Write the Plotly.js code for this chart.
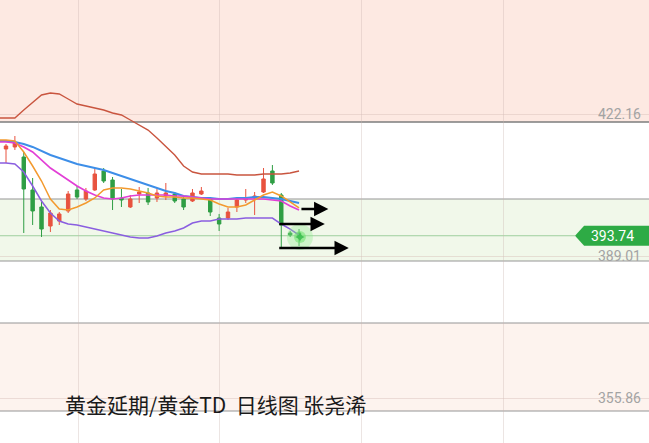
<!DOCTYPE html>
<html><head><meta charset="utf-8">
<script src="https://cdn.plot.ly/plotly-3.0.1.min.js"></script>
<style>html,body{margin:0;padding:0;background:#fff;}#chart{width:649px;height:443px;}</style>
</head><body><div id="chart"></div>
<script>
// candle index positions
const idx = [0,1,2,3,4,5,6,7,8,9,10,11,12,13,14,15,16,17,18,19,20,21,22,23,24,25,26,27,28,29,30,31,32,33];
const openV  = [413.99,414.46,412.12,404.42,400.45,396.01,397.18,399.52,404.42,402.32,404.42,408.85,406.75,402.55,400.45,403.48,403.72,402.55,403.02,403.48,402.32,401.85,403.48,402.32,397.88,397.88,400.45,402.08,402.55,403.95,408.85,403.25,394.38,394.38];
const highV  = [415.16,417.02,413.29,407.22,401.62,399.75,399.28,404.18,405.35,404.89,409.55,409.55,407.45,404.65,403.25,405.12,404.89,404.65,406.05,403.95,402.78,404.65,405.12,402.78,398.82,400.22,402.55,404.65,403.95,409.55,410.25,403.72,394.85,395.31];
const lowV   = [410.72,413.76,394.38,396.25,393.45,394.61,396.25,399.05,402.32,401.85,404.18,406.05,399.75,400.45,400.22,401.38,400.92,401.62,402.08,401.38,399.75,401.62,403.25,398.35,394.85,397.41,399.28,401.38,398.58,403.72,405.59,391.11,393.45,391.34];
const closeV = [414.69,415.39,404.65,399.52,395.31,399.05,398.82,403.48,402.78,404.18,408.15,406.52,402.32,402.08,402.32,403.95,401.62,403.72,403.72,401.85,400.45,403.72,404.18,399.28,396.48,399.28,402.08,402.55,403.02,406.99,406.05,396.25,393.91,393.74];

// indicator lines (index -1 .. 33)
const lineIdx = [-1,0,1,2,3,4,5,6,7,8,9,10,11,12,13,14,15,16,17,18,19,20,21,22,23,24,25,26,27,28,29,30,31,32,33];
const upperBand = [421.23,421.23,421.23,423.09,424.96,426.60,427.06,426.83,425.66,424.49,424.03,423.56,423.09,422.39,421.93,420.76,419.59,418.42,416.56,414.69,412.59,410.02,408.62,408.15,408.15,408.15,408.15,407.92,407.92,407.92,408.15,408.15,408.15,408.39,408.85];
const maBlue  = [415.86,415.86,415.62,415.16,414.46,413.52,412.59,411.89,411.19,410.49,410.02,409.55,409.09,408.39,407.69,406.99,406.29,405.59,404.88,404.18,403.72,403.02,402.78,402.55,402.55,402.32,402.32,402.55,402.55,402.78,402.78,402.55,402.32,401.85,401.38];
const maPink  = [415.62,415.62,415.39,414.46,413.29,411.42,409.55,408.15,406.75,405.35,404.18,403.25,402.55,402.32,402.55,403.02,403.25,403.25,403.25,403.25,403.02,403.02,402.78,402.55,402.32,402.32,402.32,402.32,402.32,402.32,402.32,402.08,401.85,400.68,399.75];
const maOrange= [416.09,416.09,415.86,413.29,410.02,406.52,402.32,399.98,399.75,400.45,401.38,402.55,404.42,404.88,404.88,404.65,404.18,403.72,403.02,402.78,402.78,402.55,402.55,402.32,402.08,401.15,400.45,400.45,400.92,402.08,403.25,403.95,403.02,401.62,400.22];
const lowerBand = [410.72,410.72,410.49,408.62,405.35,401.85,399.05,397.18,396.48,396.25,395.78,395.31,394.85,394.38,393.91,393.45,393.21,393.21,393.68,394.38,394.85,395.55,396.71,397.18,397.18,397.65,397.65,397.65,397.88,397.88,397.88,397.88,396.48,395.31,393.91];

// drawn levels and axis labels
const levels = [420.29, 402.32, 387.84, 373.37, 352.83];
const yTicks = [355.86, 389.01, 422.16];
const lastPrice = 393.74;
const arrowsX0 = [33.1, 30.6, 30.6];
const arrowsX1 = [36.3, 35.9, 38.6];
const arrowsY  = [399.98, 396.48, 390.88];
const glowPt = {x: 33.1, y: 393.45};
const caption = '黄金延期/黄金TD  日线图 张尧浠';

const RED = '#e8533f', GREEN = '#2f9e44';
const traces = [
  {type:'candlestick', x: idx, open: openV, high: highV, low: lowV, close: closeV,
   increasing:{line:{color:RED,width:1}, fillcolor:RED},
   decreasing:{line:{color:GREEN,width:1}, fillcolor:GREEN},
   whiskerwidth:0, hoverinfo:'skip', showlegend:false},
  {type:'scatter', mode:'lines', x: lineIdx, y: upperBand, line:{color:'#c9553f', width:1.4}, hoverinfo:'skip'},
  {type:'scatter', mode:'lines', x: lineIdx, y: lowerBand, line:{color:'#8a5ee0', width:1.5}, hoverinfo:'skip'},
  {type:'scatter', mode:'lines', x: lineIdx, y: maBlue, line:{color:'#3d8ee8', width:1.9}, hoverinfo:'skip'},
  {type:'scatter', mode:'lines', x: lineIdx, y: maPink, line:{color:'#e23fd6', width:1.7}, hoverinfo:'skip'},
  {type:'scatter', mode:'lines', x: lineIdx, y: maOrange, line:{color:'#f39a2e', width:1.5}, hoverinfo:'skip'},
  {type:'scatter', mode:'markers', x:[glowPt.x], y:[glowPt.y], marker:{size:26, color:'rgba(140,235,140,0.35)'}, hoverinfo:'skip'},
  {type:'scatter', mode:'markers', x:[glowPt.x], y:[glowPt.y], marker:{size:12, color:'rgba(110,225,110,0.55)'}, hoverinfo:'skip'},
  {type:'scatter', mode:'markers', x:[glowPt.x], y:[glowPt.y], marker:{size:7, symbol:'star-diamond', color:'rgba(60,190,80,0.9)'}, hoverinfo:'skip'}
];

const pxPerUnit = 443 / (448.77 - 345.36);
const shapes = [];
// background bands
const bandDefs = [
  [levels[0], 460, '#fde9e2'],
  [levels[2], levels[1], '#f1f8ea'],
  [levels[4], levels[3], '#fdf3ee']
];
bandDefs.forEach(b => shapes.push({type:'rect', xref:'paper', yref:'y', x0:0, x1:1, y0:b[0], y1:b[1], fillcolor:b[2], line:{width:0}, layer:'below'}));
levels.forEach((lv,i) => shapes.push({type:'line', xref:'paper', yref:'y', x0:0, x1:1, y0:lv, y1:lv, line:{color: i===0 ? '#7d7d7d' : '#959595', width: i===0 ? 1.5 : 1.2}, layer:'below'}));
// last price line and tag
shapes.push({type:'line', xref:'paper', yref:'y', x0:0, x1:0.886, y0:lastPrice, y1:lastPrice, line:{color:'#9fcf9f', width:1}, layer:'below'});
const half = 10 / pxPerUnit;
shapes.push({type:'path', xref:'paper', yref:'y',
  path:`M 0.886 ${lastPrice} L 0.900 ${lastPrice+half} L 1 ${lastPrice+half} L 1 ${lastPrice-half} L 0.900 ${lastPrice-half} Z`,
  fillcolor:'#2eab45', line:{width:0}, layer:'above'});

const annotations = [];
arrowsY.forEach((y,i) => annotations.push({x: arrowsX1[i], y: y, ax: arrowsX0[i], ay: y, xref:'x', yref:'y', axref:'x', ayref:'y',
  showarrow:true, arrowhead:2, arrowsize:1.1, arrowwidth:2.6, arrowcolor:'#000', text:''}));
annotations.push({xref:'paper', yref:'y', x:0.943, y:lastPrice, text: lastPrice.toFixed(2), showarrow:false,
  font:{family:'Roboto, Arial, sans-serif', size:14, color:'#ffffff'}, xanchor:'center', yanchor:'middle'});
annotations.push({xref:'paper', yref:'paper', x:63/649, y:1-404/443, text: caption, showarrow:false, xanchor:'left', yanchor:'middle',
  font:{family:'"Noto Sans CJK SC", sans-serif', size:21, color:'#1a1a1a'}});

const layout = {
  width:649, height:443, margin:{l:0,r:0,t:0,b:0},
  paper_bgcolor:'#ffffff', plot_bgcolor:'rgba(0,0,0,0)',
  showlegend:false, boxgap:0.45, hovermode:false,
  xaxis:{range:[-0.676, 72.41], showgrid:true, gridcolor:'rgba(200,180,175,0.35)', tick0:8.108, dtick:15.99,
         showticklabels:false, zeroline:false, rangeslider:{visible:false}, fixedrange:true, showline:false, ticks:''},
  yaxis:{range:[345.36, 448.77], side:'right', ticklabelposition:'inside', ticklabelstandoff:5, tickvals:yTicks, ticktext:yTicks.map(v=>v.toFixed(2)),
         showgrid:true, gridcolor:'rgba(215,190,185,0.45)', zeroline:false, showline:false, ticks:'',
         tickfont:{family:'Roboto, Arial, sans-serif', size:14, color:'#a3a3a3'}, fixedrange:true},
  shapes: shapes, annotations: annotations
};
Plotly.newPlot('chart', traces, layout, {staticPlot:true, displayModeBar:false});
</script></body></html>
